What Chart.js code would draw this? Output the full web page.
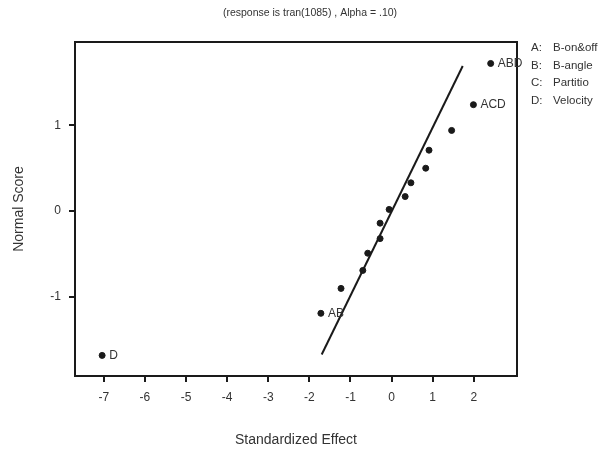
<!DOCTYPE html>
<html>
<head>
<meta charset="utf-8">
<script src="https://cdn.jsdelivr.net/npm/chart.js@4/dist/chart.umd.min.js"></script>
<style>
  html, body { margin: 0; padding: 0; background: #fff; }
  #wrap { width: 607px; height: 449px; }
</style>
</head>
<body>
<div id="wrap"><canvas id="effects"></canvas></div>
<script>
// --- data ---
const effects      = [-7.04, -1.72, -1.23, -0.70, -0.58, -0.28, -0.28, -0.06, 0.33, 0.47, 0.83, 0.91, 1.46, 1.99, 2.41];
const normalScores = [-1.68, -1.19, -0.90, -0.69, -0.49, -0.32, -0.14, 0.02, 0.17, 0.33, 0.50, 0.71, 0.94, 1.24, 1.72];
const effectNames  = ['D', 'AB', '', '', '', '', '', '', '', '', '', '', '', 'ACD', 'ABD'];
const fitLineX = [-1.70, 1.73];
const fitLineY = [-1.67, 1.69];
const xTicks = [-7, -6, -5, -4, -3, -2, -1, 0, 1, 2];
const yTicks = [-1, 0, 1];
const factorKeys = ['A:', 'B:', 'C:', 'D:'];
const factorNames = ['B-on&off', 'B-angle', 'Partitio', 'Velocity'];
const chartTitle = '(response is tran(1085) , Alpha = .10)';

const FONT = '"Liberation Sans", Arial, sans-serif';
const INK = '#1a1a1a';

// frame, labels next to points, title and factor key
const extras = {
    id: 'extras',
    afterDatasetsDraw(chart) {
        const ctx = chart.ctx;
        const a = chart.chartArea;
        ctx.save();

        // box round the plot
        ctx.strokeStyle = INK;
        ctx.lineWidth = 2;
        ctx.strokeRect(a.left, a.top, a.right - a.left, a.bottom - a.top);

        // effect names beside the points
        const meta = chart.getDatasetMeta(0);
        ctx.fillStyle = '#333';
        ctx.font = '12px ' + FONT;
        ctx.textBaseline = 'middle';
        ctx.textAlign = 'left';
        meta.data.forEach((pt, i) => {
            if (effectNames[i]) ctx.fillText(effectNames[i], pt.x + 7, pt.y);
        });

        // title
        ctx.font = '10.5px ' + FONT;
        ctx.textAlign = 'center';
        ctx.fillText(chartTitle, 310, 13);

        // factor key
        ctx.font = '11.5px ' + FONT;
        ctx.textAlign = 'left';
        factorKeys.forEach((k, i) => {
            const y = 48 + i * 17.5;
            ctx.fillText(k, 531, y);
            ctx.fillText(factorNames[i], 553, y);
        });
        ctx.restore();
    }
};

new Chart(document.getElementById('effects'), {
    type: 'scatter',
    data: {
        datasets: [
            {
                data: effects.map((x, i) => ({ x: x, y: normalScores[i] })),
                backgroundColor: INK,
                borderColor: INK,
                pointRadius: 3,
                pointHoverRadius: 3
            },
            {
                type: 'line',
                data: fitLineX.map((x, i) => ({ x: x, y: fitLineY[i] })),
                borderColor: INK,
                borderWidth: 2,
                pointRadius: 0,
                fill: false
            }
        ]
    },
    options: {
        responsive: true,
        maintainAspectRatio: false,
        animation: false,
        layout: { padding: { top: 42, right: 90, left: 0, bottom: 0 } },
        plugins: {
            legend: { display: false },
            tooltip: { enabled: false }
        },
        scales: {
            x: {
                type: 'linear',
                min: -7.7,
                max: 3.05,
                afterBuildTicks: s => { s.ticks = xTicks.map(v => ({ value: v })); },
                afterFit: s => { s.height = 73; },
                border: { display: true, color: INK, width: 2 },
                grid: { drawOnChartArea: false, drawTicks: true, tickLength: 6, color: INK, lineWidth: 2 },
                ticks: { color: '#333', font: { family: FONT, size: 12 }, padding: 8 },
                title: {
                    display: true,
                    text: 'Standardized Effect',
                    color: '#333',
                    font: { family: FONT, size: 14 },
                    padding: { top: 7, bottom: 0 }
                }
            },
            y: {
                type: 'linear',
                min: -1.92,
                max: 1.97,
                afterBuildTicks: s => { s.ticks = yTicks.map(v => ({ value: v })); },
                afterFit: s => { s.width = 75; },
                border: { display: true, color: INK, width: 2 },
                grid: { drawOnChartArea: false, drawTicks: true, tickLength: 6, color: INK, lineWidth: 2 },
                ticks: { color: '#333', font: { family: FONT, size: 12 }, padding: 8 },
                title: {
                    display: true,
                    text: 'Normal Score',
                    color: '#333',
                    font: { family: FONT, size: 14 },
                    padding: { top: 11, bottom: 0 }
                }
            }
        }
    },
    plugins: [extras]
});
</script>
</body>
</html>
